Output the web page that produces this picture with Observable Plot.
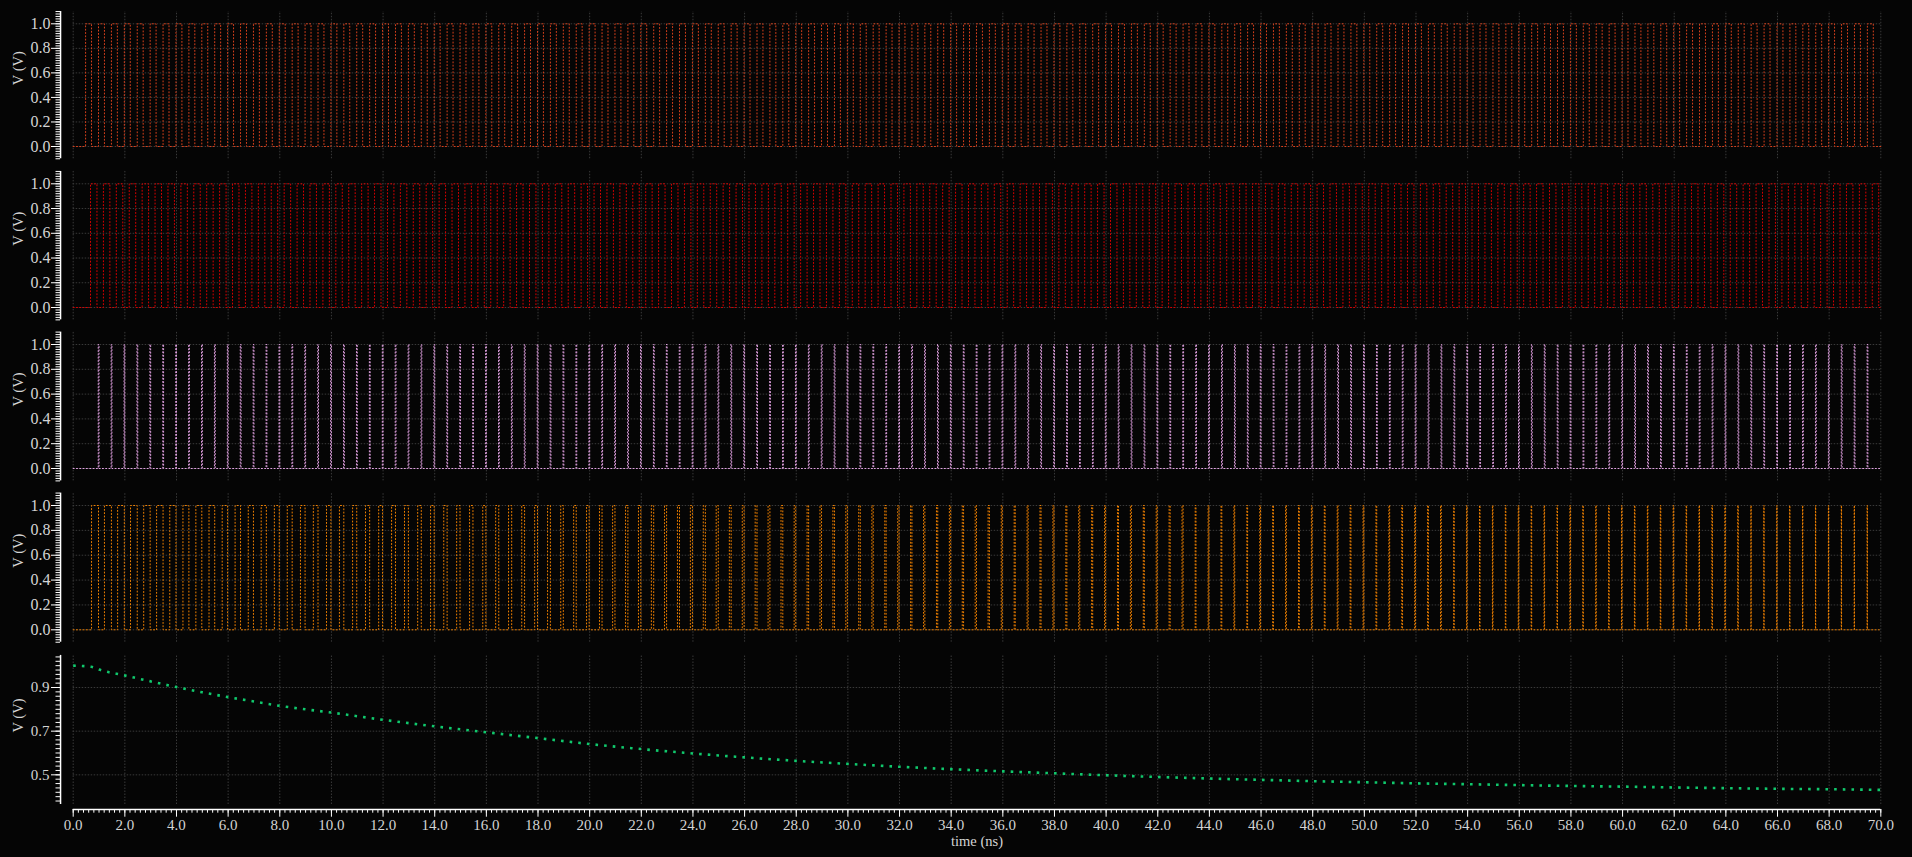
<!DOCTYPE html>
<html><head><meta charset="utf-8">
<script src="https://cdn.jsdelivr.net/npm/d3@7"></script>
<script src="https://cdn.jsdelivr.net/npm/@observablehq/plot@0.6"></script>
<style>
html,body{margin:0;padding:0;background:#050505;}
#chart{width:1912px;}
#chart svg{display:block;}
</style></head><body><div id="chart"></div><script>
// ---- data (times in ns, voltages in V) ----
const p1Rise = [0.48,0.98,1.48,1.98,2.48,2.98,3.48,3.98,4.48,4.98,5.48,5.98,6.48,6.98,7.48,7.98,8.48,8.98,9.48,9.98,
10.48,10.98,11.48,11.98,12.48,12.98,13.48,13.98,14.48,14.98,15.48,15.98,16.48,16.98,17.48,17.98,18.48,18.98,19.48,19.98,
20.48,20.98,21.48,21.98,22.48,22.98,23.48,23.98,24.48,24.98,25.48,25.98,26.48,26.98,27.48,27.98,28.48,28.98,29.48,29.98,
30.48,30.98,31.48,31.98,32.48,32.98,33.48,33.98,34.48,34.98,35.48,35.98,36.48,36.98,37.48,37.98,38.48,38.98,39.48,39.98,
40.48,40.98,41.48,41.98,42.48,42.98,43.48,43.98,44.48,44.98,45.48,45.98,46.48,46.98,47.48,47.98,48.48,48.98,49.48,49.98,
50.48,50.98,51.48,51.98,52.48,52.98,53.48,53.98,54.48,54.98,55.48,55.98,56.48,56.98,57.48,57.98,58.48,58.98,59.48,59.98,
60.48,60.98,61.48,61.98,62.48,62.98,63.48,63.98,64.48,64.98,65.48,65.98,66.48,66.98,67.48,67.98,68.48,68.98,69.48];
const p1High = 0.23;

const p2Rise = [0.67,1.17,1.67,2.17,2.67,3.17,3.67,4.17,4.67,5.17,5.67,6.17,6.67,7.17,7.67,8.17,8.67,9.17,9.67,
10.17,10.67,11.17,11.67,12.17,12.67,13.17,13.67,14.17,14.67,15.17,15.67,16.17,16.67,17.17,17.67,18.17,18.67,19.17,19.67,
20.17,20.67,21.17,21.67,22.17,22.67,23.17,23.67,24.17,24.67,25.17,25.67,26.17,26.67,27.17,27.67,28.17,28.67,29.17,29.67,
30.17,30.67,31.17,31.67,32.17,32.67,33.17,33.67,34.17,34.67,35.17,35.67,36.17,36.67,37.17,37.67,38.17,38.67,39.17,39.67,
40.17,40.67,41.17,41.67,42.17,42.67,43.17,43.67,44.17,44.67,45.17,45.67,46.17,46.67,47.17,47.67,48.17,48.67,49.17,49.67,
50.17,50.67,51.17,51.67,52.17,52.67,53.17,53.67,54.17,54.67,55.17,55.67,56.17,56.67,57.17,57.67,58.17,58.67,59.17,59.67,
60.17,60.67,61.17,61.67,62.17,62.67,63.17,63.67,64.17,64.67,65.17,65.67,66.17,66.67,67.17,67.67,68.17,68.67,69.17,69.67];
const p2High = 0.25;

const p3Rise = [0.97,1.47,1.97,2.47,2.97,3.47,3.97,4.47,4.97,5.47,5.97,6.47,6.97,7.47,7.97,8.47,8.97,9.47,9.97,
10.47,10.97,11.47,11.97,12.47,12.97,13.47,13.97,14.47,14.97,15.47,15.97,16.47,16.97,17.47,17.97,18.47,18.97,19.47,19.97,
20.47,20.97,21.47,21.97,22.47,22.97,23.47,23.97,24.47,24.97,25.47,25.97,26.47,26.97,27.47,27.97,28.47,28.97,29.47,29.97,
30.47,30.97,31.47,31.97,32.47,32.97,33.47,33.97,34.47,34.97,35.47,35.97,36.47,36.97,37.47,37.97,38.47,38.97,39.47,39.97,
40.47,40.97,41.47,41.97,42.47,42.97,43.47,43.97,44.47,44.97,45.47,45.97,46.47,46.97,47.47,47.97,48.47,48.97,49.47,49.97,
50.47,50.97,51.47,51.97,52.47,52.97,53.47,53.97,54.47,54.97,55.47,55.97,56.47,56.97,57.47,57.97,58.47,58.97,59.47,59.97,
60.47,60.97,61.47,61.97,62.47,62.97,63.47,63.97,64.47,64.97,65.47,65.97,66.47,66.97,67.47,67.97,68.47,68.97,69.47];
const p3High = 0.03;

const p4Fall = [0.98,1.48,1.98,2.48,2.98,3.48,3.98,4.48,4.98,5.48,5.98,6.48,6.98,7.48,7.98,8.48,8.98,9.48,9.98,
10.48,10.98,11.48,11.98,12.48,12.98,13.48,13.98,14.48,14.98,15.48,15.98,16.48,16.98,17.48,17.98,18.48,18.98,19.48,19.98,
20.48,20.98,21.48,21.98,22.48,22.98,23.48,23.98,24.48,24.98,25.48,25.98,26.48,26.98,27.48,27.98,28.48,28.98,29.48,29.98,
30.48,30.98,31.48,31.98,32.48,32.98,33.48,33.98,34.48,34.98,35.48,35.98,36.48,36.98,37.48,37.98,38.48,38.98,39.48,39.98,
40.48,40.98,41.48,41.98,42.48,42.98,43.48,43.98,44.48,44.98,45.48,45.98,46.48,46.98,47.48,47.98,48.48,48.98,49.48,49.98,
50.48,50.98,51.48,51.98,52.48,52.98,53.48,53.98,54.48,54.98,55.48,55.98,56.48,56.98,57.48,57.98,58.48,58.98,59.48,59.98,
60.48,60.98,61.48,61.98,62.48,62.98,63.48,63.98,64.48,64.98,65.48,65.98,66.48,66.98,67.48,67.98,68.48,68.98,69.48];
const p4High = [0.27,0.27,0.26,0.26,0.25,0.25,0.24,0.23,0.23,0.22,0.21,0.21,0.20,0.20,0.19,0.19,0.18,0.18,0.17,0.17,
0.16,0.16,0.15,0.15,0.15,0.14,0.14,0.13,0.13,0.13,0.12,0.12,0.12,0.11,0.11,0.11,0.10,0.10,0.10,0.10,
0.09,0.09,0.09,0.09,0.08,0.08,0.08,0.08,0.08,0.07,0.07,0.07,0.07,0.07,0.06,0.06,0.06,0.06,0.06,0.06,
0.05,0.05,0.05,0.05,0.05,0.05,0.05,0.05,0.05,0.05,0.04,0.04,0.04,0.04,0.04,0.04,0.04,0.04,0.04,0.04,
0.04,0.04,0.04,0.04,0.04,0.03,0.03,0.03,0.03,0.03,0.03,0.03,0.03,0.03,0.03,0.03,0.03,0.03,0.03,0.03,
0.03,0.03,0.03,0.03,0.03,0.02,0.02,0.02,0.02,0.02,0.02,0.02,0.02,0.02,0.02,0.02,0.02,0.02,0.02,0.02,
0.02,0.02,0.02,0.02,0.02,0.02,0.02,0.02,0.01,0.01,0.01,0.01,0.01,0.01,0.01,0.01,0.01,0.01];

const vTime = [0,0.7,1,2,3,4,5,6,7,8,9,10,12,14,16,18,20,22,24,26,28,30,32,34,36,38,40,42,44,46,48,50,52,54,56,58,60,62,64,66,68,70];
const vOut  = [1.000,0.995,0.982,0.955,0.928,0.902,0.878,0.856,0.836,0.816,0.800,0.785,0.752,0.722,0.695,0.668,0.641,0.618,0.598,0.580,0.564,0.550,0.537,0.526,0.516,0.507,0.498,0.490,0.483,0.477,0.471,0.466,0.461,0.457,0.453,0.449,0.446,0.442,0.439,0.436,0.434,0.431];

const xMajor = [0,2,4,6,8,10,12,14,16,18,20,22,24,26,28,30,32,34,36,38,40,42,44,46,48,50,52,54,56,58,60,62,64,66,68,70];
const yMajor = [0,0.2,0.4,0.6,0.8,1.0];
const yMajor5 = [0.5,0.7,0.9];
const seriesColors = ["#d8401c", "#d80000", "#e0a0e0", "#f08000"];
const outColor = "#10c86c";

// ---- layout ----
const W = 1912;
const X_RANGE = [72.7, 1880.3];
const AXIS_T = -0.49;           // y-axis line position (just left of t=0)
const fontFam = "'Liberation Serif','Times New Roman',serif";
const txtCol = "#d4d4d4";
const gridCol = "#3a3a3a";
const xMinor = d3.range(0, 70.0001, 0.2);

function stepPoints(rises, highs) {
  const pts = [{t: 0, v: 0}];
  rises.forEach((r, i) => {
    const w = Array.isArray(highs) ? highs[i] : highs;
    pts.push({t: r, v: 1}, {t: r + w, v: 0});
  });
  pts.push({t: 70, v: 0});
  return pts;
}

function basePlot(cfg, marks) {
  return Plot.plot({
    width: W, height: cfg.height,
    marginLeft: 60, marginRight: W - X_RANGE[1],
    marginTop: cfg.mt, marginBottom: cfg.mb,
    style: {background: "transparent", color: txtCol, fontFamily: fontFam, fontSize: "15px"},
    x: {domain: [0, 70], range: X_RANGE, axis: cfg.xAxis ? undefined : null},
    y: {domain: cfg.yDom, range: cfg.yRng},
    marks
  });
}

function signalPanel(cfg, pts, color) {
  const lo = -0.1, hi = 1.1;
  const yMinor = d3.range(-0.1, 1.1001, 0.02);
  return basePlot(cfg, [
    Plot.ruleX(xMajor, {y1: lo, y2: hi, stroke: gridCol, strokeDasharray: "1.5,1.5"}),
    Plot.ruleY(yMajor, {x1: 0, x2: 70, stroke: gridCol, strokeDasharray: "1.5,1.5"}),
    Plot.line(pts, {x: "t", y: "v", curve: "step-after", stroke: color, strokeWidth: 1, strokeDasharray: "1,2.3"}),
    Plot.ruleX([AXIS_T], {y1: lo, y2: hi, stroke: "white", strokeWidth: 1.5}),
    Plot.axisY({ticks: yMinor, tickSize: 4.5, stroke: "white", fill: "none", label: null}),
    Plot.axisY({ticks: yMajor, tickSize: 9, tickPadding: 1, stroke: "white", fill: txtCol, fontSize: 16, tickFormat: d => d.toFixed(1), label: null}),
    Plot.text(["V (V)"], {frameAnchor: "left", dx: -42, rotate: -90, fill: txtCol, fontSize: 14.5})
  ]);
}

const chart = document.getElementById("chart");
const panels = [
  {height: 165, mt: 11, mb: 6.7, yDom: [0, 1], yRng: [146, 23.3], rises: p1Rise, highs: p1High},
  {height: 161, mt: 6, mb: 6.6, yDom: [0, 1], yRng: [142, 18.3], rises: p2Rise, highs: p2High},
  {height: 161, mt: 5.6, mb: 6.6, yDom: [0, 1], yRng: [142, 18], rises: p3Rise, highs: p3High},
  {height: 162, mt: 5.6, mb: 7.3, yDom: [0, 1], yRng: [142.3, 18], rises: p4Fall.map((f, i) => f - p4High[i]), highs: p4High}
];
panels.forEach((cfg, i) => {
  chart.appendChild(signalPanel(cfg, stepPoints(cfg.rises, cfg.highs), seriesColors[i]));
});

// ---- panel 5 ----
{
  const cfg = {height: 208, mt: 6, mb: 48, yDom: [0.5, 0.9], yRng: [125.33, 38], xAxis: true};
  const lo = 0.364, hi = 1.047, axisV = 0.3412;
  const yMinor = d3.range(0.38, 1.0401, 0.02);
  const data = vTime.map((t, i) => ({t, v: vOut[i]}));
  chart.appendChild(basePlot(cfg, [
    Plot.ruleX(xMajor, {y1: lo, y2: hi, stroke: gridCol, strokeDasharray: "1.5,1.5"}),
    Plot.ruleY(yMajor5, {x1: 0, x2: 70, stroke: gridCol, strokeDasharray: "1.5,1.5"}),
    Plot.line(data, {x: "t", y: "v", curve: "monotone-x", stroke: outColor, strokeWidth: 2.6, strokeDasharray: "2.6,6.07", strokeLinecap: "butt"}),
    Plot.ruleX([AXIS_T], {y1: lo, y2: hi, stroke: "white", strokeWidth: 1.5}),
    Plot.axisY({ticks: yMinor, tickSize: 4.5, stroke: "white", fill: "none", label: null}),
    Plot.axisY({ticks: yMajor5, tickSize: 9, tickPadding: 2, stroke: "white", fill: txtCol, tickFormat: d => d.toFixed(1), label: null}),
    Plot.ruleY([axisV], {x1: 0, x2: 70, stroke: "white", strokeWidth: 1.5}),
    Plot.axisX({ticks: xMinor, tickSize: 3.7, stroke: "white", fill: "none", label: null}),
    Plot.axisX({ticks: xMajor, tickSize: 7.7, tickPadding: 2, stroke: "white", fill: txtCol, tickFormat: d => d.toFixed(1), label: null}),
    Plot.text(["V (V)"], {frameAnchor: "left", dx: -42, rotate: -90, fill: txtCol, fontSize: 14.5}),
    Plot.text(["time (ns)"], {x: () => 35, frameAnchor: "bottom", dy: 36.5, fill: txtCol, fontSize: 14.5})
  ]));
}
</script></body></html>
